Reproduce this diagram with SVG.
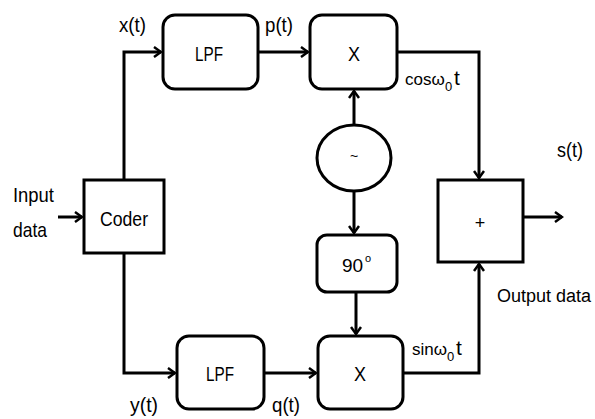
<svg xmlns="http://www.w3.org/2000/svg" width="595" height="419" viewBox="0 0 595 419">
<defs>
<marker id="arr" markerWidth="12" markerHeight="12" refX="10" refY="6" orient="auto" markerUnits="userSpaceOnUse">
<path d="M3,1 L10,6 L3,11" fill="none" stroke="#000" stroke-width="2.5"/>
</marker>
<style>
.b{fill:#fff;stroke:#000;stroke-width:3}
.c{fill:none;stroke:#000;stroke-width:3}
text{font-family:"Liberation Sans",Arial,sans-serif;font-size:21px;fill:#000}
.s{font-size:14px}
.m{text-anchor:middle}
</style>
</defs>
<rect width="595" height="419" fill="#fff"/>
<g id="connectors">
<path class="c" d="M58,217 H82" marker-end="url(#arr)"/>
<path class="c" d="M124,180 V52 H161" marker-end="url(#arr)"/>
<path class="c" d="M258,52 H308" marker-end="url(#arr)"/>
<path class="c" d="M397,52 H479 V178" marker-end="url(#arr)"/>
<path class="c" d="M354,125 V91" marker-end="url(#arr)"/>
<path class="c" d="M354,191 V233" marker-end="url(#arr)"/>
<path class="c" d="M356,292 V334" marker-end="url(#arr)"/>
<path class="c" d="M124,253 V373 H175" marker-end="url(#arr)"/>
<path class="c" d="M264,373 H316" marker-end="url(#arr)"/>
<path class="c" d="M403,373 H479 V264" marker-end="url(#arr)"/>
<path class="c" d="M523,217 H562" marker-end="url(#arr)"/>
</g>
<g id="input"><text x="13" y="202" textLength="41" lengthAdjust="spacingAndGlyphs">Input</text><text x="13" y="237" textLength="34" lengthAdjust="spacingAndGlyphs">data</text></g>
<g id="coder"><rect class="b" x="84" y="180" width="80" height="73"/><text x="100" y="226" textLength="48" lengthAdjust="spacingAndGlyphs">Coder</text></g>
<g id="lpf1"><rect class="b" x="163" y="15" width="95" height="74" rx="12"/><text x="195" y="61" textLength="28" lengthAdjust="spacingAndGlyphs">LPF</text></g>
<g id="mult1"><rect class="b" x="310" y="15" width="87" height="74" rx="12"/><text x="348" y="61" textLength="12" lengthAdjust="spacingAndGlyphs">X</text></g>
<g id="osc"><ellipse class="b" cx="354" cy="158" rx="37" ry="33"/><text class="m" x="354" y="161" style="font-size:14px">~</text></g>
<g id="shift"><rect class="b" x="317" y="235" width="80" height="57" rx="10"/><text x="342" y="272" style="font-size:19px">90</text><text x="365" y="262" style="font-size:11px">o</text></g>
<g id="lpf2"><rect class="b" x="177" y="336" width="87" height="73" rx="12"/><text x="206" y="381" textLength="28" lengthAdjust="spacingAndGlyphs">LPF</text></g>
<g id="mult2"><rect class="b" x="318" y="336" width="85" height="73" rx="12"/><text x="354" y="381" textLength="12" lengthAdjust="spacingAndGlyphs">X</text></g>
<g id="sum"><rect class="b" x="438" y="180" width="85" height="82"/><text class="m" x="480" y="229" style="font-size:18px">+</text></g>
<g id="labels">
<text x="119" y="32" textLength="27" lengthAdjust="spacingAndGlyphs">x(t)</text>
<text x="265" y="32" textLength="28" lengthAdjust="spacingAndGlyphs">p(t)</text>
<text x="405" y="85" style="font-size:17px">cosω</text><text class="s" x="445" y="91" style="font-size:13px">0</text><text x="454" y="85">t</text>
<text x="412" y="355" style="font-size:17px">sinω</text><text class="s" x="447" y="361" style="font-size:13px">0</text><text x="456" y="355">t</text>
<text x="557" y="157" textLength="26" lengthAdjust="spacingAndGlyphs">s(t)</text>
<text x="497" y="302" style="font-size:18px">Output data</text>
<text x="130" y="412" textLength="28" lengthAdjust="spacingAndGlyphs">y(t)</text>
<text x="272" y="412" textLength="28" lengthAdjust="spacingAndGlyphs">q(t)</text>
</g>
</svg>
